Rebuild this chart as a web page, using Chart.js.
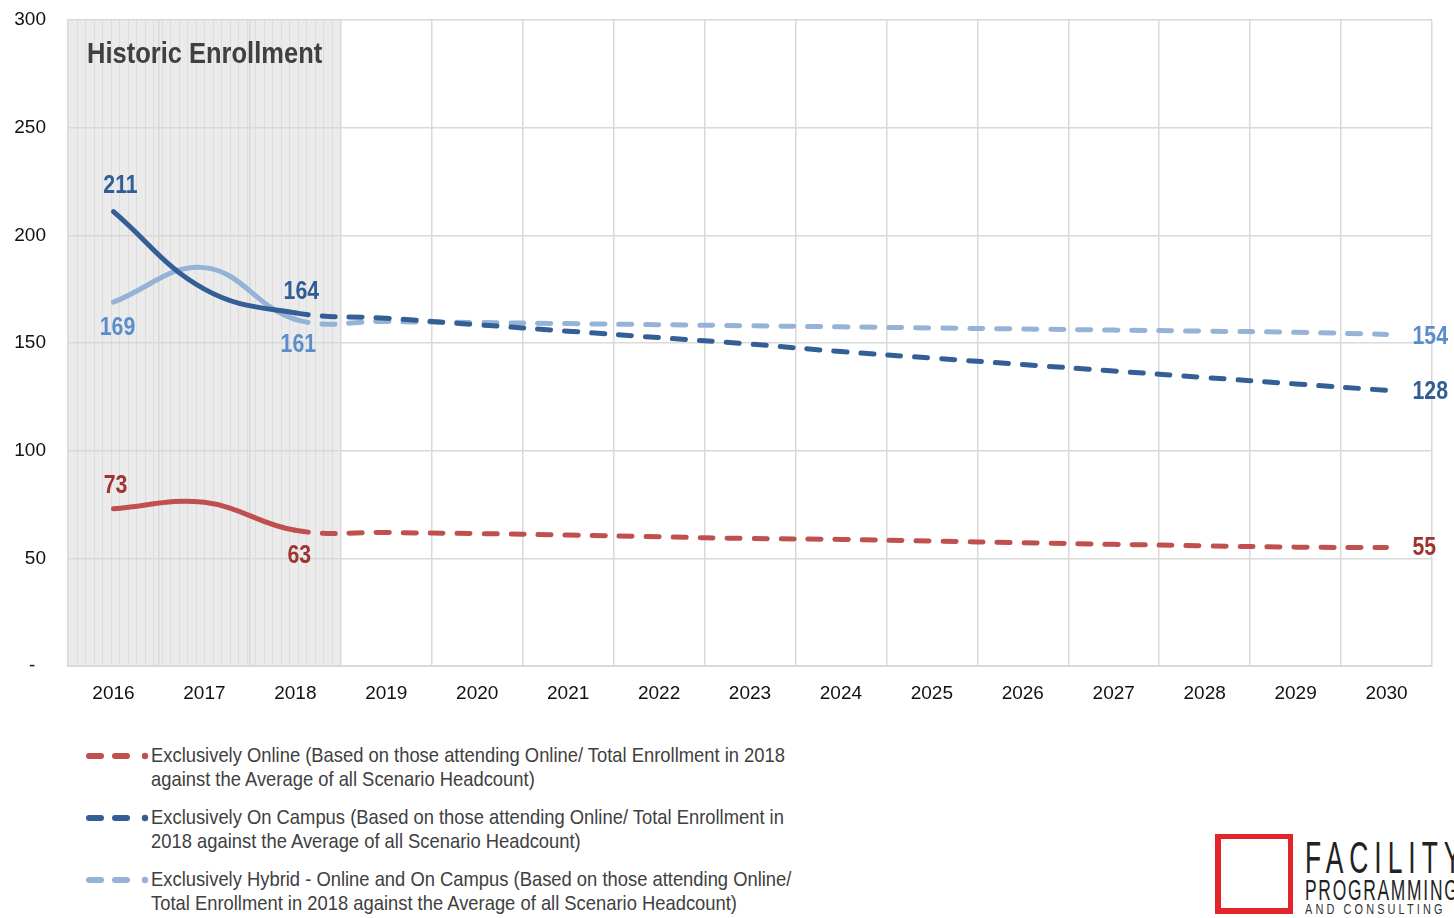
<!DOCTYPE html>
<html>
<head>
<meta charset="utf-8">
<script src="https://cdn.jsdelivr.net/npm/chart.js@4.4.0/dist/chart.umd.min.js"></script>
<style>
    body { margin: 0; background: #fff; overflow: hidden; }
    .wrap { position: relative; width: 1454px; height: 918px; overflow: hidden; font-family: "Liberation Sans", Arial, sans-serif; }
    #chart { position: absolute; left: 0; top: 0; }
    .legend { position: absolute; left: 85px; top: 743px; color: #404040; font-size: 21px; line-height: 24px; }
    .legend__item { position: relative; height: 48px; margin-bottom: 14px; }
    .legend__item svg { position: absolute; left: 0; top: 8px; }
    .legend__text { position: absolute; left: 66px; top: 0; white-space: pre; transform: scaleX(0.875); transform-origin: left top; }
    .logo { position: absolute; left: 1215px; top: 834px; width: 260px; height: 84px; }
    .logo__box { position: absolute; left: 0; top: 0; width: 67px; height: 69px; border: 6px solid #e3242b; border-right-width: 5px; border-top-width: 5px; }
    .logo div.t { position: absolute; left: 90px; white-space: nowrap; transform-origin: left top; color: #222; }
    .logo__t1 { top: 2px; font-size: 44px; line-height: 44px; letter-spacing: 10px; transform: scaleX(0.6); font-weight: 300; }
    .logo__t2 { top: 41px; font-size: 30px; line-height: 30px; letter-spacing: 3px; transform: scaleX(0.58); }
    .logo__t3 { top: 68px; font-size: 14px; line-height: 14px; letter-spacing: 4px; transform: scaleX(0.78); color: #333 !important; }
</style>
</head>
<body>
<div class="wrap">
    <canvas id="chart"></canvas>
    <div class="legend"></div>
    <div class="logo">
        <div class="logo__box"></div>
        <div class="t logo__t1">FACILITY</div>
        <div class="t logo__t2">PROGRAMMING</div>
        <div class="t logo__t3">AND CONSULTING</div>
    </div>
</div>
<script>
// data
const years = ["2016", "2017", "2018", "2019", "2020", "2021", "2022", "2023", "2024", "2025", "2026", "2027", "2028", "2029", "2030"];
const online = [73, 76, 63, 62, 61.5, 60.8, 60, 59.2, 58.8, 58, 57.2, 56.5, 55.8, 55.2, 55];
const onCampus = [211, 175, 164, 161.5, 158.5, 155.5, 152.5, 149.5, 146, 143, 140, 137, 134, 131, 128];
const hybrid = [169, 185, 161, 160, 159.5, 159, 158.5, 158, 157.5, 157, 156.5, 156, 155.5, 155, 154];
const yTicks = [0, 50, 100, 150, 200, 250, 300];
const historicCount = 3; // 2016-2018
const labelIdx = [0, 2, 14];

const font = '"Liberation Sans", Arial, sans-serif';
const narrow = 0.85; // no narrow font installed, squeeze instead

const series = [
    {
        name: "Exclusively Online (Based on those attending Online/ Total Enrollment in 2018\nagainst the Average of all Scenario Headcount)",
        data: online, color: "#c0504d", labelColor: "#9e3330",
        offsets: [[2, -23, "center"], [4, 26, "center"], [26, 1, "left"]],
    },
    {
        name: "Exclusively On Campus (Based on those attending Online/ Total Enrollment in\n2018 against the Average of all Scenario Headcount)",
        data: onCampus, color: "#335f96", labelColor: "#2f5d94",
        offsets: [[7, -26, "center"], [6, -21, "center"], [26, 2, "left"]],
    },
    {
        name: "Exclusively Hybrid - Online and On Campus (Based on those attending Online/\nTotal Enrollment in 2018 against the Average of all Scenario Headcount)",
        data: hybrid, color: "#95b3d7", labelColor: "#5b8dcc",
        offsets: [[4, 26, "center"], [3, 26, "center"], [26, 3, "left"]],
    },
];

function squeezedText(ctx, text, x, y, align) {
    ctx.save();
    ctx.translate(x, y);
    ctx.scale(narrow, 1);
    ctx.textAlign = align;
    ctx.fillText(text, 0, 0);
    ctx.restore();
}

// shaded historic band + title
const historicBand = {
    id: "historicBand",
    beforeDraw(chart) {
        const { ctx, chartArea, scales } = chart;
        const x = scales.x;
        const step = x.getPixelForValue(1) - x.getPixelForValue(0);
        const right = x.getPixelForValue(historicCount - 1) + step / 2;
        ctx.save();
        ctx.fillStyle = "#ebebeb";
        ctx.fillRect(chartArea.left, chartArea.top, right - chartArea.left, chartArea.bottom - chartArea.top);
        ctx.strokeStyle = "#dddddd";
        ctx.lineWidth = 1;
        for (let px = chartArea.left + 8.5; px < right; px += 8.5) {
            ctx.beginPath();
            ctx.moveTo(Math.round(px) + 0.5, chartArea.top);
            ctx.lineTo(Math.round(px) + 0.5, chartArea.bottom);
            ctx.stroke();
        }
        ctx.restore();
    },
    beforeDatasetsDraw(chart) {
        const { ctx, chartArea } = chart;
        ctx.save();
        ctx.fillStyle = "#404040";
        ctx.font = "bold 30px " + font;
        ctx.textBaseline = "middle";
        squeezedText(ctx, "Historic Enrollment", chartArea.left + 19, chartArea.top + 35, "left");
        ctx.restore();
    },
};

// value labels
const valueLabels = {
    id: "valueLabels",
    afterDatasetsDraw(chart) {
        const { ctx } = chart;
        ctx.save();
        ctx.font = "bold 25px " + font;
        ctx.textBaseline = "middle";
        series.forEach((s, di) => {
            const meta = chart.getDatasetMeta(di);
            labelIdx.forEach((idx, k) => {
                const pt = meta.data[idx];
                const [dx, dy, align] = s.offsets[k];
                ctx.fillStyle = s.labelColor;
                squeezedText(ctx, String(Math.round(s.data[idx])), pt.x + dx, pt.y + dy, align);
            });
        });
        ctx.restore();
    },
};

const canvas = document.getElementById("chart");
canvas.width = 1454;
canvas.height = 720;
canvas.style.width = "1454px";
canvas.style.height = "720px";

new Chart(canvas, {
    type: "line",
    data: {
        labels: years,
        datasets: series.map((s) => ({
            label: s.name,
            data: s.data,
            borderColor: s.color,
            borderWidth: 5,
            borderCapStyle: "round",
            pointRadius: 0,
            tension: 0.4,
            segment: {
                borderDash: (c) => (c.p0DataIndex >= historicCount - 1 ? [13, 14] : undefined),
            },
        })),
    },
    options: {
        responsive: false,
        animation: false,
        devicePixelRatio: 1,
        layout: { padding: { top: 20, right: 22, left: 0, bottom: 0 } },
        plugins: {
            legend: { display: false },
            tooltip: { enabled: false },
        },
        scales: {
            x: {
                offset: true,
                grid: { offset: true, color: "#d9d9d9", lineWidth: 1.5, drawTicks: false },
                border: { color: "#d9d9d9", width: 2 },
                ticks: { color: "#111", font: { family: font, size: 19 }, padding: 16, maxRotation: 0 },
                afterFit(scale) { scale.height = 54; },
            },
            y: {
                min: 0,
                max: 300,
                afterBuildTicks(scale) { scale.ticks = yTicks.map((v) => ({ value: v })); },
                grid: { color: "#d9d9d9", lineWidth: 1.5, drawTicks: false },
                border: { color: "#d9d9d9", width: 1.5 },
                ticks: {
                    color: "#111",
                    font: { family: font, size: 19 },
                    padding: 22,
                    callback: (v) => (v === 0 ? "-  " : v),
                },
                afterFit(scale) {
                    scale.width = 68;
                    scale.paddingTop = 0;
                    scale.paddingBottom = 0;
                },
            },
        },
    },
    plugins: [historicBand, valueLabels],
});

// legend
const legend = document.querySelector(".legend");
series.forEach((s) => {
    const item = document.createElement("div");
    item.className = "legend__item";
    item.innerHTML = `<svg width="64" height="10"><line x1="4" y1="5" x2="46" y2="5" stroke="${s.color}" stroke-width="6" stroke-linecap="round" stroke-dasharray="12 14"/><circle cx="60" cy="5" r="3.2" fill="${s.color}"/></svg><div class="legend__text"></div>`;
    item.querySelector(".legend__text").textContent = s.name;
    legend.appendChild(item);
});
</script>
</body>
</html>
